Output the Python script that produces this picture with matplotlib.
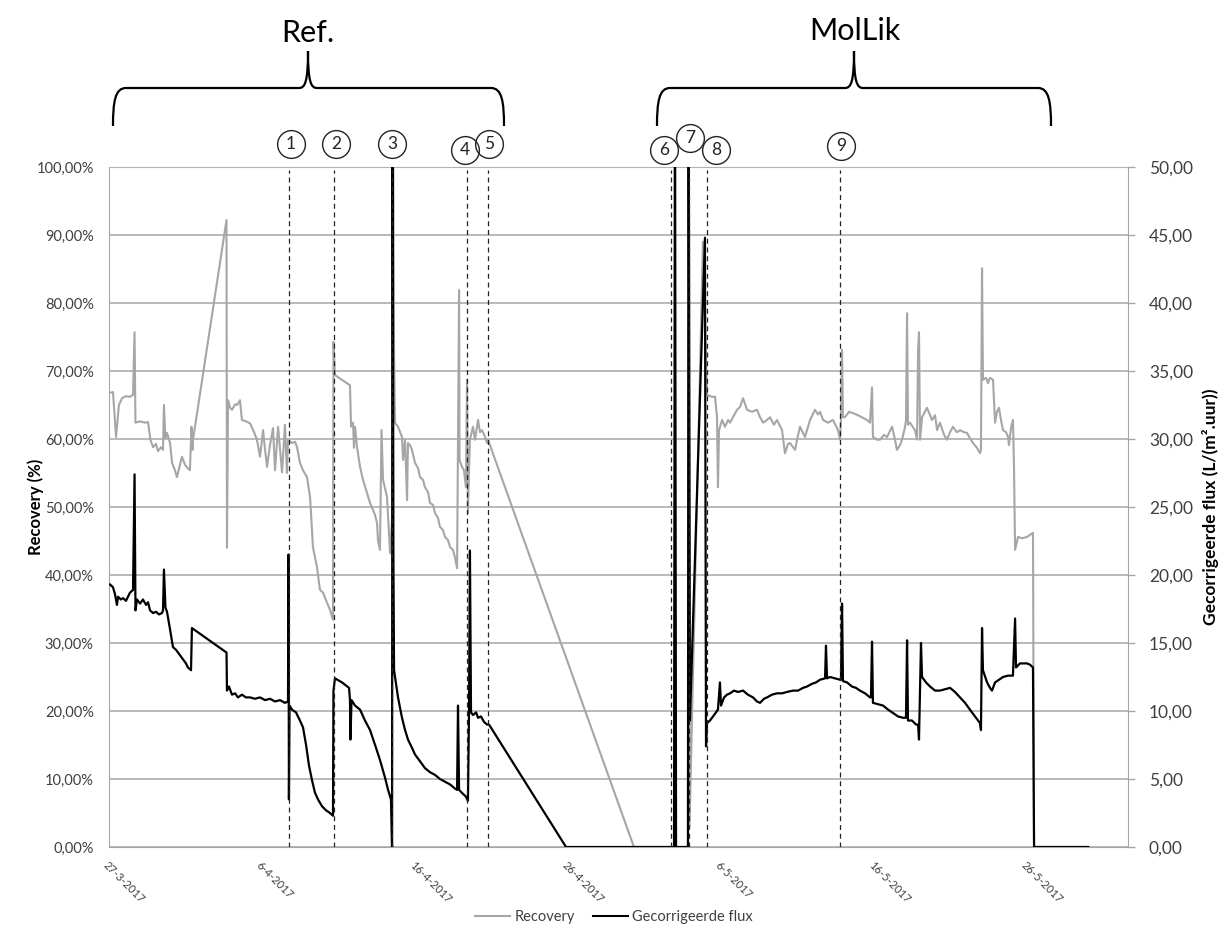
import numpy as np
import matplotlib.pyplot as plt
from matplotlib.path import Path
from matplotlib.patches import PathPatch
from matplotlib.lines import Line2D
from matplotlib.ticker import FuncFormatter

plt.rcParams['font.family'] = ['Lato', 'DejaVu Sans']

# ---------- data (x = days since 27-3-2017) ----------
recovery = [
    (0.07, 66.8), (0.26, 66.9), (0.46, 60.3), (0.65, 65.0), (0.85, 66.0), (1.11, 66.3), (1.37, 66.2),
    (1.57, 66.5), (1.67, 75.7), (1.73, 62.4), (2.03, 62.6), (2.35, 62.4), (2.55, 62.5), (2.68, 60.3),
    (2.75, 59.6), (2.88, 58.8), (3.07, 59.3), (3.20, 58.2), (3.40, 58.8), (3.53, 58.4), (3.59, 65.0),
    (3.69, 60.1), (3.79, 60.9), (3.99, 59.4), (4.12, 56.5), (4.31, 55.4), (4.44, 54.4), (4.64, 56.2),
    (4.77, 57.4), (4.97, 56.2), (5.16, 55.7), (5.29, 55.4), (5.39, 61.8), (5.46, 58.4), (5.49, 59.9),
    (7.68, 92.2), (7.71, 44.0), (7.78, 65.7), (7.91, 64.6), (8.04, 64.3), (8.24, 65.1), (8.37, 65.0),
    (8.56, 65.7), (8.69, 62.8), (8.95, 62.6), (9.22, 62.3), (9.48, 61.0), (9.67, 59.9), (9.87, 57.4),
    (10.07, 61.3), (10.20, 58.4), (10.33, 55.9), (10.52, 59.1), (10.72, 61.6), (10.85, 55.4),
    (11.05, 61.8), (11.18, 58.4), (11.31, 55.1), (11.50, 62.1), (11.63, 55.0), (11.70, 59.9),
    (11.96, 59.4), (12.16, 59.6), (12.29, 58.8), (12.48, 56.5), (12.68, 55.4), (12.94, 54.4),
    (13.14, 51.5), (13.33, 44.1), (13.59, 41.2), (13.79, 37.8), (13.99, 37.4), (14.18, 36.3),
    (14.44, 34.9), (14.64, 33.4), (14.67, 74.3), (14.77, 69.4), (15.75, 67.9), (15.82, 61.8),
    (15.95, 62.4), (16.01, 58.7), (16.08, 61.8), (16.21, 58.8), (16.41, 55.9), (16.60, 54.0),
    (16.86, 52.1), (17.06, 50.6), (17.25, 49.6), (17.39, 48.8), (17.52, 47.6), (17.58, 45.1),
    (17.71, 43.7), (17.81, 61.3), (17.91, 54.0), (18.17, 51.5), (18.37, 43.2), (18.50, 48.1),
    (18.53, 130.0), (18.63, 73.1), (18.69, 62.4), (18.89, 61.8), (19.15, 60.3), (19.22, 56.9),
    (19.35, 59.9), (19.48, 51.0), (19.54, 59.4), (19.67, 59.1), (19.80, 58.4), (20.00, 56.5),
    (20.20, 55.7), (20.33, 54.4), (20.52, 54.0), (20.65, 52.9), (20.85, 52.2), (20.98, 50.6),
    (21.18, 50.3), (21.31, 49.1), (21.50, 48.4), (21.63, 47.1), (21.83, 46.6), (21.96, 45.6),
    (22.16, 45.1), (22.29, 44.1), (22.48, 43.7), (22.61, 42.6), (22.75, 41.0), (22.81, 60.3),
    (22.88, 81.9), (22.91, 56.9), (23.07, 55.9), (23.20, 55.4), (23.33, 52.9), (23.40, 68.7),
    (23.46, 49.1), (23.53, 55.4), (23.59, 59.9), (23.79, 61.8), (23.92, 59.9), (24.12, 62.8),
    (24.25, 61.0), (24.38, 61.3), (24.58, 60.3), (24.71, 59.4), (24.77, 59.9), (34.31, 0.0),
    (37.84, 0.0), (37.88, 130.0), (37.94, 3.0), (38.82, 89.0), (39.08, 66.5), (39.41, 66.2),
    (39.61, 66.2), (39.74, 63.2), (39.80, 52.9), (39.87, 61.3), (40.07, 62.8), (40.26, 61.8),
    (40.46, 62.8), (40.59, 62.4), (40.78, 63.2), (41.05, 64.3), (41.24, 64.7), (41.44, 66.0),
    (41.70, 64.3), (42.03, 64.0), (42.35, 64.3), (42.55, 63.2), (42.75, 62.4), (43.01, 62.8),
    (43.20, 63.2), (43.46, 62.1), (43.66, 62.8), (43.99, 61.3), (44.18, 57.9), (44.38, 59.3),
    (44.51, 59.4), (44.84, 58.4), (44.97, 59.9), (45.16, 61.8), (45.49, 60.3), (45.82, 62.8),
    (46.14, 64.3), (46.34, 63.6), (46.47, 64.0), (46.67, 62.8), (47.00, 62.4), (47.32, 62.8),
    (47.65, 61.3), (47.78, 59.9), (47.84, 62.8), (47.91, 73.1), (47.97, 63.2), (48.10, 63.2),
    (48.37, 64.0), (48.63, 63.8), (48.95, 63.5), (49.28, 63.1), (49.54, 62.8), (49.74, 62.4),
    (49.87, 67.6), (49.93, 60.3), (50.20, 59.9), (50.39, 59.9), (50.65, 60.6), (50.85, 60.3),
    (51.18, 61.8), (51.37, 59.9), (51.50, 58.4), (51.70, 59.1), (51.83, 59.9), (52.03, 61.8),
    (52.09, 62.8), (52.16, 78.5), (52.22, 62.1), (52.35, 62.4), (52.68, 61.3), (52.81, 59.9),
    (52.88, 73.1), (52.94, 75.7), (53.01, 59.9), (53.14, 63.2), (53.46, 64.6), (53.79, 62.8),
    (53.99, 63.5), (54.12, 61.3), (54.31, 62.4), (54.58, 60.6), (54.77, 59.9), (54.97, 61.0),
    (55.16, 61.8), (55.42, 61.0), (55.62, 61.3), (55.88, 61.0), (56.08, 60.9), (56.27, 60.1),
    (56.47, 59.4), (56.73, 58.7), (56.93, 57.9), (56.99, 58.4), (57.06, 85.1), (57.12, 68.7),
    (57.32, 69.0), (57.45, 68.2), (57.58, 69.0), (57.78, 68.7), (57.84, 65.7), (57.91, 62.4),
    (58.04, 64.0), (58.17, 64.6), (58.30, 62.8), (58.43, 61.3), (58.63, 61.0), (58.76, 60.3),
    (58.82, 59.1), (58.95, 61.6), (59.08, 62.8), (59.15, 55.7), (59.22, 43.7), (59.41, 45.6),
    (59.67, 45.4), (60.00, 45.6), (60.20, 45.9), (60.39, 46.2), (60.46, 0.0), (64.0, 0.0),
]

flux = [
    (0.07, 19.3), (0.26, 19.1), (0.39, 18.6), (0.52, 17.8), (0.59, 18.4), (0.78, 18.2), (0.92, 18.3),
    (1.11, 18.1), (1.37, 18.7), (1.57, 18.9), (1.67, 27.4), (1.73, 17.4), (1.83, 18.2), (2.03, 17.9),
    (2.22, 18.2), (2.42, 17.8), (2.55, 18.0), (2.68, 17.4), (2.88, 17.2), (3.07, 17.3), (3.27, 17.1),
    (3.46, 17.2), (3.53, 17.4), (3.59, 20.4), (3.69, 17.6), (3.79, 17.3), (3.99, 16.0), (4.18, 14.7),
    (4.38, 14.5), (4.51, 14.3), (4.71, 14.0), (4.84, 13.8), (5.03, 13.5), (5.16, 13.2), (5.36, 13.0),
    (5.42, 16.1), (7.68, 14.3), (7.71, 11.5), (7.84, 11.8), (8.04, 11.2), (8.24, 11.3), (8.43, 11.0),
    (8.69, 11.2), (8.95, 11.0), (9.22, 11.0), (9.54, 10.9), (9.87, 11.0), (10.20, 10.8), (10.52, 10.9),
    (10.85, 10.7), (11.18, 10.8), (11.50, 10.6), (11.70, 10.7), (11.73, 21.5), (11.76, 3.5),
    (11.80, 10.4), (11.96, 10.1), (12.22, 9.9), (12.48, 9.3), (12.68, 8.8), (12.88, 7.5), (13.07, 6.0),
    (13.27, 4.9), (13.46, 4.0), (13.66, 3.5), (13.92, 3.0), (14.18, 2.7), (14.44, 2.5), (14.64, 2.3),
    (14.67, 11.5), (14.77, 12.4), (15.23, 12.1), (15.69, 11.7), (15.75, 10.8), (15.78, 7.9),
    (15.85, 10.8), (16.08, 10.4), (16.41, 10.1), (16.73, 9.3), (17.06, 8.6), (17.39, 7.5), (17.71, 6.4),
    (18.04, 5.1), (18.24, 4.2), (18.43, 3.5), (18.50, 0.0), (18.53, 60.0), (18.59, 20.7), (18.63, 13.0),
    (18.72, 12.3), (18.89, 11.0), (19.15, 9.5), (19.35, 8.6), (19.54, 7.9), (19.80, 7.3), (20.00, 6.8),
    (20.33, 6.3), (20.65, 5.8), (20.98, 5.5), (21.31, 5.3), (21.63, 5.0), (21.96, 4.8), (22.29, 4.6),
    (22.61, 4.3), (22.75, 4.2), (22.81, 10.4), (22.88, 4.2), (23.14, 3.9), (23.33, 3.7), (23.46, 3.4),
    (23.53, 9.9), (23.59, 21.8), (23.66, 9.9), (23.79, 9.7), (23.99, 9.9), (24.12, 9.5), (24.31, 9.6),
    (24.51, 9.2), (24.71, 9.0), (24.84, 9.0), (29.87, 0.0), (36.93, 0.0), (36.99, 60.0), (37.06, 0.0),
    (37.84, 0.0), (37.88, 60.0), (37.97, 9.3), (38.95, 44.8), (39.02, 7.4), (39.08, 9.1), (39.28, 9.3),
    (39.48, 9.6), (39.67, 9.9), (39.80, 10.1), (39.93, 12.1), (40.00, 10.4), (40.20, 11.0),
    (40.39, 11.2), (40.59, 11.3), (40.85, 11.5), (41.11, 11.4), (41.44, 11.5), (41.76, 11.2),
    (42.09, 11.0), (42.35, 10.7), (42.55, 10.6), (42.81, 10.9), (43.01, 11.0), (43.33, 11.2),
    (43.66, 11.3), (43.99, 11.3), (44.31, 11.4), (44.71, 11.5), (45.03, 11.5), (45.36, 11.7),
    (45.62, 11.8), (45.95, 12.0), (46.21, 12.1), (46.47, 12.3), (46.80, 12.4), (46.86, 14.8),
    (46.93, 12.4), (47.12, 12.5), (47.45, 12.4), (47.78, 12.3), (47.84, 12.3), (47.91, 17.9),
    (47.97, 12.2), (48.24, 12.1), (48.56, 11.8), (48.82, 11.7), (49.08, 11.5), (49.41, 11.3),
    (49.74, 11.0), (49.80, 11.0), (49.87, 15.1), (49.93, 10.6), (50.26, 10.5), (50.59, 10.4),
    (50.92, 10.1), (51.24, 9.85), (51.57, 9.6), (51.90, 9.5), (52.09, 9.5), (52.16, 15.2), (52.22, 9.3),
    (52.48, 9.3), (52.75, 9.0), (52.88, 9.0), (52.94, 7.9), (53.07, 15.0), (53.14, 12.5), (53.40, 12.1),
    (53.66, 11.8), (53.99, 11.5), (54.31, 11.5), (54.64, 11.6), (54.97, 11.7), (55.29, 11.4),
    (55.62, 11.0), (55.95, 10.6), (56.27, 10.1), (56.60, 9.6), (56.93, 9.1), (56.99, 8.6), (57.06, 16.1),
    (57.12, 13.0), (57.39, 12.1), (57.58, 11.7), (57.71, 11.5), (57.91, 12.1), (58.17, 12.3),
    (58.43, 12.5), (58.76, 12.6), (59.08, 12.6), (59.22, 16.8), (59.28, 13.2), (59.54, 13.5),
    (59.74, 13.5), (60.00, 13.5), (60.20, 13.4), (60.39, 13.2), (60.46, 0.0), (64.0, 0.0),
]

event_days = [11.76, 14.71, 18.50, 23.40, 24.77, 36.73, 37.91, 39.08, 47.78]
event_labels = ['1', '2', '3', '4', '5', '6', '7', '8', '9']
date_ticks = [0, 10, 20, 30, 40, 50, 60]
date_labels = ['27-3-2017', '6-4-2017', '16-4-2017', '26-4-2017', '6-5-2017', '16-5-2017', '26-5-2017']
group_names = ['Ref.', 'MolLik']

rec_days, rec_vals = zip(*recovery)
flux_days, flux_vals = zip(*flux)

# ---------- figure ----------
W, H = 1223, 926
fig = plt.figure(figsize=(W / 100, H / 100), dpi=100)
ax = fig.add_axes([109 / W, 1 - 847 / H, 1019 / W, 680 / H])
ax2 = ax.twinx()

def fx(x):
    return x / W

def fy(y):
    return 1 - y / H

grid_c = '#B3B3B3'
axis_c = '#A6A6A6'
text_c = '#404040'

ax.set_xlim(0, 66.6)
ax.set_ylim(0, 100)
ax2.set_ylim(0, 50)

ax.set_yticks(np.arange(0, 101, 10))
ax2.set_yticks(np.arange(0, 51, 5))
ax.yaxis.set_major_formatter(FuncFormatter(lambda v, p: f"{v:.2f}%".replace('.', ',')))
ax2.yaxis.set_major_formatter(FuncFormatter(lambda v, p: f"{v:.2f}".replace('.', ',')))
ax.grid(axis='y', color=grid_c, lw=1.3)
ax.set_axisbelow(True)

ax.set_xticks(date_ticks)
ax.set_xticklabels(date_labels, rotation=-45, ha='left', va='top', rotation_mode='anchor')
ax.tick_params(axis='x', length=0, pad=9, labelsize=8, labelcolor=text_c)
ax.tick_params(axis='y', length=0, pad=11, labelsize=10.5, labelcolor=text_c)
ax2.tick_params(axis='y', direction='out', length=5, color=axis_c, width=1, pad=10,
                labelsize=12.5, labelcolor=text_c)

for s in ['left', 'bottom']:
    ax.spines[s].set_color(axis_c)
ax.spines['top'].set_color(grid_c)
ax.spines['right'].set_visible(False)
for s in ['left', 'bottom', 'top']:
    ax2.spines[s].set_visible(False)
ax2.spines['right'].set_color(axis_c)

ax.plot(rec_days, rec_vals, color='#A6A6A6', lw=1.5, zorder=2)
ax2.plot(flux_days, flux_vals, color='black', lw=1.6, zorder=2)

for d in event_days:
    ax2.axvline(d, ymin=0, ymax=0.995, color='#222222', lw=0.9, ls=(0, (4, 3)), zorder=3)

ax.set_ylabel('Recovery (%)', fontweight='bold', fontsize=12, color='black')
ax.yaxis.set_label_coords(-0.064, 0.5)
ax2.set_ylabel('Gecorrigeerde flux (L/(m².uur))', fontweight='bold', fontsize=12.5, color='black')
ax2.yaxis.set_label_coords(1.073, 0.5)

# circled event numbers
off_x = [2, 2, 0, -2, 1, -7, 1, 9, 1]
off_y = [144, 144, 144, 150, 144, 150, 138, 150, 146]
for d, lab, ox, oy in zip(event_days, event_labels, off_x, off_y):
    px = 109 + d * 1019 / 66.6 + ox
    fig.add_artist(Line2D([fx(px)], [fy(oy)], marker='o', ms=20, mfc='none', mec='#222222',
                          mew=1.0, transform=fig.transFigure))
    fig.text(fx(px), fy(oy), lab, ha='center', va='center', fontsize=12.5, color='#222222')

# braces
def brace(x0, x1, xt):
    yb, yh, ytop = 126, 88, 51
    verts = [(x0, yb), (x0, yh + 14), (x0 + 2, yh), (x0 + 13, yh),
             (xt - 9, yh), (xt - 3, yh), (xt, yh - 6), (xt, ytop),
             (xt, yh - 6), (xt + 3, yh), (xt + 9, yh),
             (x1 - 13, yh), (x1 - 2, yh), (x1, yh + 14), (x1, yb)]
    codes = [Path.MOVETO, Path.CURVE4, Path.CURVE4, Path.CURVE4,
             Path.LINETO, Path.CURVE4, Path.CURVE4, Path.CURVE4,
             Path.CURVE4, Path.CURVE4, Path.CURVE4,
             Path.LINETO, Path.CURVE4, Path.CURVE4, Path.CURVE4]
    pts = [(fx(a), fy(b)) for a, b in verts]
    fig.add_artist(PathPatch(Path(pts, codes), fc='none', ec='black', lw=1.6,
                             transform=fig.transFigure))

brace(113, 504, 308)
brace(657, 1051, 854)
fig.text(fx(308), fy(42), group_names[0], ha='center', va='baseline', fontsize=22)
fig.text(fx(855), fy(40), group_names[1], ha='center', va='baseline', fontsize=22)

handles = [Line2D([], [], color='#A6A6A6', lw=1.5), Line2D([], [], color='black', lw=1.5)]
fig.legend(handles, ['Recovery', 'Gecorrigeerde flux'], loc='center', ncol=2, frameon=False,
           bbox_to_anchor=(fx(614), fy(917)), fontsize=10.5, handlelength=2.4, columnspacing=1.2,
           handletextpad=0.3, labelcolor=text_c)

fig.savefig('out.png', dpi=100)
